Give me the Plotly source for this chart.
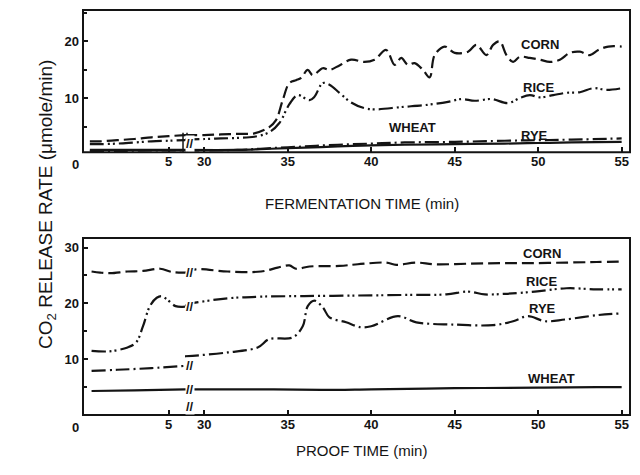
import plotly.graph_objects as go

# ---------------- data (time in min, CO2 release rate in umole/min) ----------------
# Top panel: fermentation
corn_ferm_t1 = [0.4, 1, 2, 3, 4, 5, 5.95]
corn_ferm_v1 = [2.5, 2.5, 2.7, 2.9, 3.2, 3.4, 3.6]
corn_ferm_t2 = [28.85, 30, 31, 32, 33, 33.9, 34.3, 34.7, 35.1, 35.5, 35.8, 36.2, 36.5, 37.1, 37.5, 38.1,
                38.8, 39.6, 40.2, 40.9, 41.4, 41.8, 42.2, 42.6, 43.1, 43.5, 43.8, 44.4, 45, 45.8, 46.3,
                46.9, 47.3, 47.7, 48.1, 48.5, 48.9, 49.5, 50.1, 50.7, 51.3, 51.9, 52.5, 53.1, 53.6, 54.2, 55]
corn_ferm_v2 = [3.6, 3.6, 3.7, 3.8, 3.9, 5.0, 6.2, 9.7, 12.7, 13.2, 13.6, 15.0, 14.1, 15.3, 15.0, 15.8,
                16.8, 16.4, 16.8, 18.5, 15.9, 17.1, 15.9, 16.2, 15.0, 13.7, 17.6, 19.1, 18.0, 18.2, 19.4,
                17.6, 19.4, 20.0, 17.6, 16.4, 17.3, 17.1, 16.8, 16.4, 16.8, 18.0, 18.2, 17.6, 18.5, 19.1, 19.1]

rice_ferm_t1 = [0.4, 1, 2, 3, 4, 5, 5.95]
rice_ferm_v1 = [2.0, 2.0, 2.1, 2.3, 2.5, 2.6, 2.7]
rice_ferm_t2 = [28.85, 30, 31, 32, 33, 33.9, 34.5, 35.1, 35.6, 36.3, 36.6, 37.1, 37.5, 38.1, 38.8, 39.6,
                40.3, 41.8, 43.4, 44.6, 45.4, 46.2, 47.2, 48.2, 48.9, 49.5, 50.1, 50.9, 51.7, 52.5,
                53.3, 54.1, 55]
rice_ferm_v2 = [2.8, 2.9, 3.0, 3.1, 3.3, 4.1, 5.7, 9.0, 10.6, 9.7, 10.3, 12.7, 12.4, 11.0, 9.3, 8.3,
                8.1, 8.5, 8.9, 9.4, 9.9, 9.6, 9.9, 9.2, 10.1, 10.6, 10.2, 10.6, 11.0, 11.1,
                11.8, 11.5, 11.8]

wheat_ferm_t1 = [0.4, 2, 4, 5.95]
wheat_ferm_v1 = [1.0, 1.0, 1.0, 1.0]
wheat_ferm_t2 = [28.85, 32, 34, 36, 38, 40, 42, 45, 48, 50, 52, 55]
wheat_ferm_v2 = [1.0, 1.0, 1.2, 1.4, 1.6, 1.8, 1.9, 2.0, 2.1, 2.2, 2.3, 2.4]

rye_ferm_t1 = [0.4, 2, 4, 5.95]
rye_ferm_v1 = [0.8, 0.8, 0.9, 0.9]
rye_ferm_t2 = [28.85, 32, 34, 36, 38, 40, 42, 45, 48, 50, 52, 55]
rye_ferm_v2 = [0.9, 1.0, 1.3, 1.6, 1.9, 2.1, 2.3, 2.4, 2.6, 2.7, 2.8, 3.0]

# Bottom panel: proof
corn_proof_t1 = [0.5, 1, 1.6, 2.6, 3.5, 4.5, 5.2, 5.95]
corn_proof_v1 = [25.7, 25.5, 25.4, 25.7, 25.8, 26.2, 25.6, 25.5]
corn_proof_t2 = [28.85, 29.5, 31.4, 33.4, 34.4, 35.1, 35.5, 36.3, 38.1, 39.2, 40.9, 41.5, 42.7, 43.8,
                 45.8, 47.7, 49.5, 51.7, 53.5, 55]
corn_proof_v2 = [25.5, 26.1, 25.7, 25.7, 26.4, 26.8, 26.2, 26.6, 26.7, 27.0, 27.3, 26.9, 27.3, 27.0,
                 27.1, 27.2, 27.2, 27.3, 27.4, 27.5]

rice_proof_t1 = [0.5, 1.5, 2.6, 3.1, 3.5, 3.9, 4.3, 4.6, 4.9, 5.4, 5.95]
rice_proof_v1 = [11.5, 11.4, 12.1, 13.0, 15.9, 19.5, 21.0, 21.3, 20.7, 19.5, 19.4]
rice_proof_t2 = [28.85, 29.3, 31.4, 33.4, 36, 39.2, 42, 44.5, 45.8, 46.8, 48, 49.8, 51.7, 53.5, 55]
rice_proof_v2 = [19.6, 20.0, 20.9, 21.2, 21.3, 21.4, 21.5, 21.6, 22.1, 21.6, 21.7, 22.1, 22.7, 22.5, 22.5]

rye_proof_t1 = [0.5, 2, 4, 5.95]
rye_proof_v1 = [7.9, 8.1, 8.4, 8.8]
rye_proof_t2 = [28.85, 29.3, 31.4, 33.2, 33.9, 35.3, 35.9, 36.2, 36.6, 37.1, 37.5, 38.5, 39.4, 40,
                41.6, 42.7, 44.9, 47.3, 48.5, 49.4, 50.4, 51.6, 53.6, 55]
rye_proof_v2 = [10.5, 10.6, 11.2, 12.1, 13.6, 13.9, 15.9, 19.5, 20.5, 19.3, 17.5, 16.6, 15.7, 15.9,
                17.7, 16.6, 16.2, 16.1, 16.8, 17.7, 16.8, 17.1, 17.9, 18.2]

wheat_proof_t1 = [0.5, 3, 5.95]
wheat_proof_v1 = [4.3, 4.4, 4.6]
wheat_proof_t2 = [28.85, 33, 37, 40, 45, 50, 53.5, 55]
wheat_proof_v2 = [4.6, 4.6, 4.5, 4.6, 4.8, 4.9, 5.0, 5.0]

x_early_ticks = [5]
x_late_ticks = [30, 35, 40, 45, 50, 55]
ferm_y_ticks = [10, 20]
proof_y_ticks = [10, 20, 30]

ferm_labels = {"CORN": (50.1, 19.4), "RICE": (50.0, 12.0), "WHEAT": (42.5, 4.9), "RYE": (49.8, 3.6)}
proof_labels = {"CORN": (50.25, 28.9), "RICE": (50.2, 23.9), "RYE": (50.25, 19.1), "WHEAT": (50.8, 6.6)}

# ---------------- styling ----------------
INK = "#141414"
DASH = {
    "CORN": "12px,5px",
    "RICE": "14px,4px,2px,3px,2px,4px",
    "RYE": "14px,4px,2px,4px",
    "WHEAT": "solid",
}
FONT = "Liberation Sans, Arial, sans-serif"
BREAK = 0.1865  # paper fraction where the axis break sits

fig = go.Figure()


def add_series(name, t1, v1, t2, v2, xa1, xa2, ya):
    style = dict(color=INK, width=2.2, dash=DASH[name])
    fig.add_trace(go.Scatter(x=t1, y=v1, xaxis=xa1, yaxis=ya, mode="lines", line=style,
                             line_shape="spline", showlegend=False, hoverinfo="skip"))
    fig.add_trace(go.Scatter(x=t2, y=v2, xaxis=xa2, yaxis=ya, mode="lines", line=style,
                             line_shape="spline", showlegend=False, hoverinfo="skip"))


add_series("CORN", corn_ferm_t1, corn_ferm_v1, corn_ferm_t2, corn_ferm_v2, "x", "x2", "y")
add_series("RICE", rice_ferm_t1, rice_ferm_v1, rice_ferm_t2, rice_ferm_v2, "x", "x2", "y")
add_series("WHEAT", wheat_ferm_t1, wheat_ferm_v1, wheat_ferm_t2, wheat_ferm_v2, "x", "x2", "y")
add_series("RYE", rye_ferm_t1, rye_ferm_v1, rye_ferm_t2, rye_ferm_v2, "x", "x2", "y")

add_series("CORN", corn_proof_t1, corn_proof_v1, corn_proof_t2, corn_proof_v2, "x3", "x4", "y2")
add_series("RICE", rice_proof_t1, rice_proof_v1, rice_proof_t2, rice_proof_v2, "x3", "x4", "y2")
add_series("RYE", rye_proof_t1, rye_proof_v1, rye_proof_t2, rye_proof_v2, "x3", "x4", "y2")
add_series("WHEAT", wheat_proof_t1, wheat_proof_v1, wheat_proof_t2, wheat_proof_v2, "x3", "x4", "y2")

tickfont = dict(family=FONT, size=13, color=INK, weight="bold")
xcommon = dict(showgrid=False, zeroline=False, showline=False, ticks="inside", ticklen=5,
               tickwidth=1.5, tickcolor=INK, tickfont=tickfont, fixedrange=True)
ycommon = dict(showgrid=False, zeroline=False, showline=False, ticks="inside", ticklen=5,
               tickwidth=1.5, tickcolor=INK, tickfont=tickfont, ticklabelstandoff=3,
               minor=dict(ticks="inside", ticklen=4, dtick=5, tickcolor=INK, tickwidth=1.5),
               fixedrange=True)

# the page body adds an 8px margin and the visible width ends near x=632
fig.update_layout(
    width=624, height=459,
    margin=dict(l=75, r=2, t=2, b=52),
    paper_bgcolor="white", plot_bgcolor="white",
    xaxis=dict(domain=[0, BREAK], range=[0, 5.95], anchor="y",
               tickvals=x_early_ticks, ticktext=[str(v) for v in x_early_ticks], **xcommon),
    xaxis2=dict(domain=[BREAK, 1], range=[28.85, 55.5], anchor="y",
                tickvals=x_late_ticks, ticktext=[str(v) for v in x_late_ticks], **xcommon),
    xaxis3=dict(domain=[0, BREAK], range=[0, 5.95], anchor="y2",
                tickvals=x_early_ticks, ticktext=[str(v) for v in x_early_ticks], **xcommon),
    xaxis4=dict(domain=[BREAK, 1], range=[28.85, 55.5], anchor="y2",
                tickvals=x_late_ticks, ticktext=[str(v) for v in x_late_ticks], **xcommon),
    yaxis=dict(domain=[0.649, 1], range=[0.6, 25.5], anchor="x",
               tickvals=ferm_y_ticks, **ycommon),
    yaxis2=dict(domain=[0, 0.437], range=[0, 31.7], anchor="x3",
                tickvals=proof_y_ticks, **ycommon),
)

shapes = []
for yr in ["y", "y2"]:
    shapes.append(dict(type="rect", xref="paper", yref=f"{yr} domain", x0=0, x1=1, y0=0, y1=1,
                       line=dict(color=INK, width=2), fillcolor="rgba(0,0,0,0)", layer="above"))
# tall break bar in the fermentation panel
for dx in (-2, 2):
    shapes.append(dict(type="line", xref="paper", xsizemode="pixel", xanchor=BREAK,
                       x0=dx, x1=dx, yref="y", y0=0.6, y1=corn_ferm_v1[-1] + 0.4,
                       line=dict(color=INK, width=1.5)))
fig.update_layout(shapes=shapes)

ann = []
lab_font = dict(family=FONT, size=13, color=INK, weight="bold")
for name, (tx, vy) in ferm_labels.items():
    ann.append(dict(x=tx, y=vy, xref="x2", yref="y", text=name, showarrow=False, font=lab_font))
for name, (tx, vy) in proof_labels.items():
    ann.append(dict(x=tx, y=vy, xref="x4", yref="y2", text=name, showarrow=False, font=lab_font))

# corner zero labels
for yr in ["y", "y2"]:
    ann.append(dict(x=0, y=0, xref="paper", yref=f"{yr} domain", text="0", showarrow=False,
                    xanchor="right", yanchor="top", xshift=-2, yshift=-3, font=tickfont))

# axis break marks
brk_font = dict(family=FONT, size=13, color=INK, weight="bold")
for yr in ["y", "y2"]:
    ann.append(dict(x=BREAK, y=0, xref="paper", yref=f"{yr} domain", text="//", showarrow=False,
                    font=brk_font, bgcolor="white", borderpad=0))
for v in (corn_proof_v1[-1], rice_proof_v1[-1], rye_proof_v1[-1], wheat_proof_v1[-1]):
    ann.append(dict(x=BREAK, y=v, xref="paper", yref="y2", text="//", showarrow=False,
                    font=brk_font, bgcolor="white", borderpad=0))

# axis titles
title_font = dict(family=FONT, size=15, color=INK)
ann.append(dict(x=0.51, y=0.523, xref="paper", yref="paper", text="FERMENTATION TIME (min)",
                showarrow=False, font=title_font))
ann.append(dict(x=0.51, y=-0.113, xref="paper", yref="paper", text="PROOF TIME (min)",
                showarrow=False, font=title_font))
ann.append(dict(x=-0.0914, y=0.5185, xref="paper", yref="paper",
                text="CO<sub>2</sub> RELEASE RATE (μmole/min)", textangle=-90,
                showarrow=False, font=dict(family=FONT, size=19, color=INK)))
fig.update_layout(annotations=ann)

fig.write_html("out.html")
